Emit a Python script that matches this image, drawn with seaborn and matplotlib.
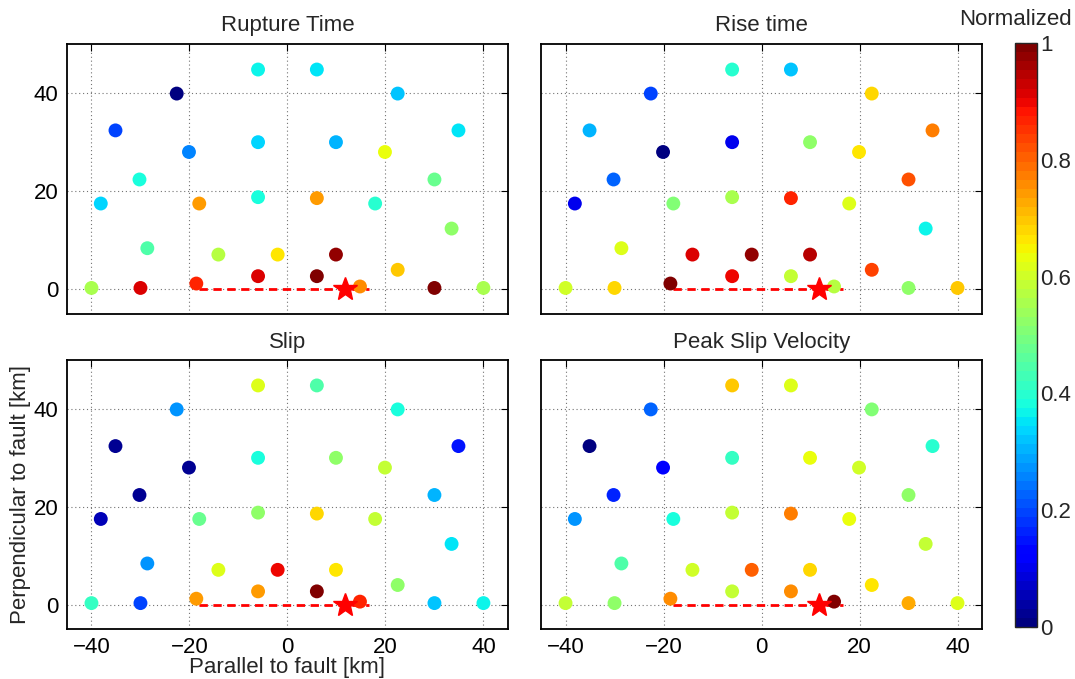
import numpy as np
import pandas as pd
import matplotlib
matplotlib.use("Agg")
import matplotlib.pyplot as plt
import seaborn as sns

# Station positions (km)
x_km = [-40, -30, -18.6, -6, 6, 14.8, 30, 40,
        -28.6, -14.1, -2, 9.9, 22.5, 33.5,
        -38.1, -18, -6, 6, 17.9,
        -30.2, 30,
        -20.1, -6, 9.9, 19.9,
        -35.1, 34.9,
        -22.6, 22.5,
        -6, 6]
y_km = [0.3, 0.3, 1.2, 2.7, 2.7, 0.6, 0.3, 0.3,
        8.4, 7.1, 7.1, 7.1, 4.0, 12.4,
        17.5, 17.5, 18.8, 18.6, 17.5,
        22.4, 22.4,
        28.0, 30.0, 30.0, 28.0,
        32.4, 32.4,
        39.9, 39.9,
        44.8, 44.8]

# Normalized values per panel
rupture_time = [0.55, 0.92, 0.87, 0.91, 1.0, 0.75, 0.99, 0.56,
                0.45, 0.57, 0.67, 0.97, 0.70, 0.52,
                0.34, 0.74, 0.39, 0.74, 0.40,
                0.38, 0.48,
                0.25, 0.33, 0.30, 0.64,
                0.19, 0.35,
                0.00, 0.32,
                0.37, 0.35]
rise_time = [0.60, 0.68, 1.0, 0.90, 0.58, 0.57, 0.52, 0.70,
             0.61, 0.92, 0.98, 0.95, 0.83, 0.36,
             0.10, 0.50, 0.56, 0.87, 0.62,
             0.22, 0.82,
             0.00, 0.10, 0.52, 0.66,
             0.30, 0.77,
             0.19, 0.68,
             0.40, 0.32]
slip = [0.42, 0.19, 0.74, 0.74, 1.0, 0.86, 0.32, 0.36,
        0.27, 0.61, 0.90, 0.66, 0.52, 0.35,
        0.06, 0.48, 0.53, 0.68, 0.58,
        0.02, 0.30,
        0.02, 0.38, 0.52, 0.58,
        0.02, 0.15,
        0.27, 0.39,
        0.61, 0.45]
peak_slip_velocity = [0.59, 0.52, 0.75, 0.58, 0.75, 1.0, 0.72, 0.62,
                      0.44, 0.60, 0.80, 0.68, 0.67, 0.58,
                      0.27, 0.38, 0.58, 0.77, 0.64,
                      0.17, 0.52,
                      0.11, 0.42, 0.63, 0.60,
                      0.00, 0.40,
                      0.23, 0.50,
                      0.70, 0.61]

titles = ["Rupture Time", "Rise time", "Slip", "Peak Slip Velocity"]
panels = [rupture_time, rise_time, slip, peak_slip_velocity]

# Hypocenter and fault trace
hypo_x = [11.7]
hypo_y = [0.0]
fault_x = [-18.0, 16.7]
fault_y = [0.0, 0.0]

xticks = [-40, -20, 0, 20, 40]
yticks = [0, 20, 40]
cbar_ticks = [0, 0.2, 0.4, 0.6, 0.8, 1]
cbar_labels = ["0", "0.2", "0.4", "0.6", "0.8", "1"]

sns.set_style("white")
plt.rcParams['font.family'] = ['Liberation Sans', 'DejaVu Sans']
plt.rcParams['font.size'] = 16

cmap = plt.get_cmap("jet", 64)

fig = plt.figure(figsize=(10.75, 6.79), dpi=100)
positions = [
    [0.0623, 0.5376, 0.4102, 0.3976],
    [0.5033, 0.5376, 0.4102, 0.3976],
    [0.0623, 0.0736, 0.4102, 0.3962],
    [0.5033, 0.0736, 0.4102, 0.3962],
]

for i, (pos, title, vals) in enumerate(zip(positions, titles, panels)):
    ax = fig.add_axes(pos)
    df = pd.DataFrame({"x": x_km, "y": y_km, "v": vals})
    ax.plot(fault_x, fault_y, color="red", ls=(0, (3, 2)), lw=2, zorder=2)
    sns.scatterplot(data=df, x="x", y="y", hue="v", palette=cmap, hue_norm=(0, 1),
                    s=100, edgecolor="none", linewidth=0, legend=False, ax=ax, zorder=3)
    ax.plot(hypo_x, hypo_y, marker="*", color="red", markersize=18, ls="none", zorder=4)
    ax.set_xlim(-45, 45)
    ax.set_ylim(-5, 50)
    ax.set_xticks(xticks)
    ax.set_yticks(yticks)
    ax.grid(True, ls=(0, (1, 2.5)), color="0.45", lw=0.8)
    ax.tick_params(direction="in", top=True, right=True, length=5, width=0.8,
                   labelsize=16, pad=6, colors="black")
    for sp in ax.spines.values():
        sp.set_visible(True)
        sp.set_color("black")
        sp.set_linewidth(1.3)
    ax.set_title(title, fontsize=16, pad=9)
    ax.set_xlabel("")
    ax.set_ylabel("")
    if i < 2:
        ax.set_xticklabels([])
    if i % 2 == 1:
        ax.set_yticklabels([])
    if i == 2:
        ax.set_xlabel("Parallel to fault [km]", fontsize=16, labelpad=-1)
        ax.set_ylabel("Perpendicular to fault [km]", fontsize=16, labelpad=2)

cax = fig.add_axes([0.9442, 0.0766, 0.0205, 0.8601])
sm = matplotlib.cm.ScalarMappable(cmap=cmap, norm=matplotlib.colors.Normalize(0, 1))
cb = fig.colorbar(sm, cax=cax)
cb.set_ticks(cbar_ticks)
cb.set_ticklabels(cbar_labels)
cax.tick_params(direction="in", length=4, labelsize=16, pad=2, left=True, right=True)
cb.outline.set_linewidth(1.0)
fig.text(0.9442, 0.972, "Normalized", ha="center", va="center", fontsize=16)

fig.savefig("out.png", dpi=100)
